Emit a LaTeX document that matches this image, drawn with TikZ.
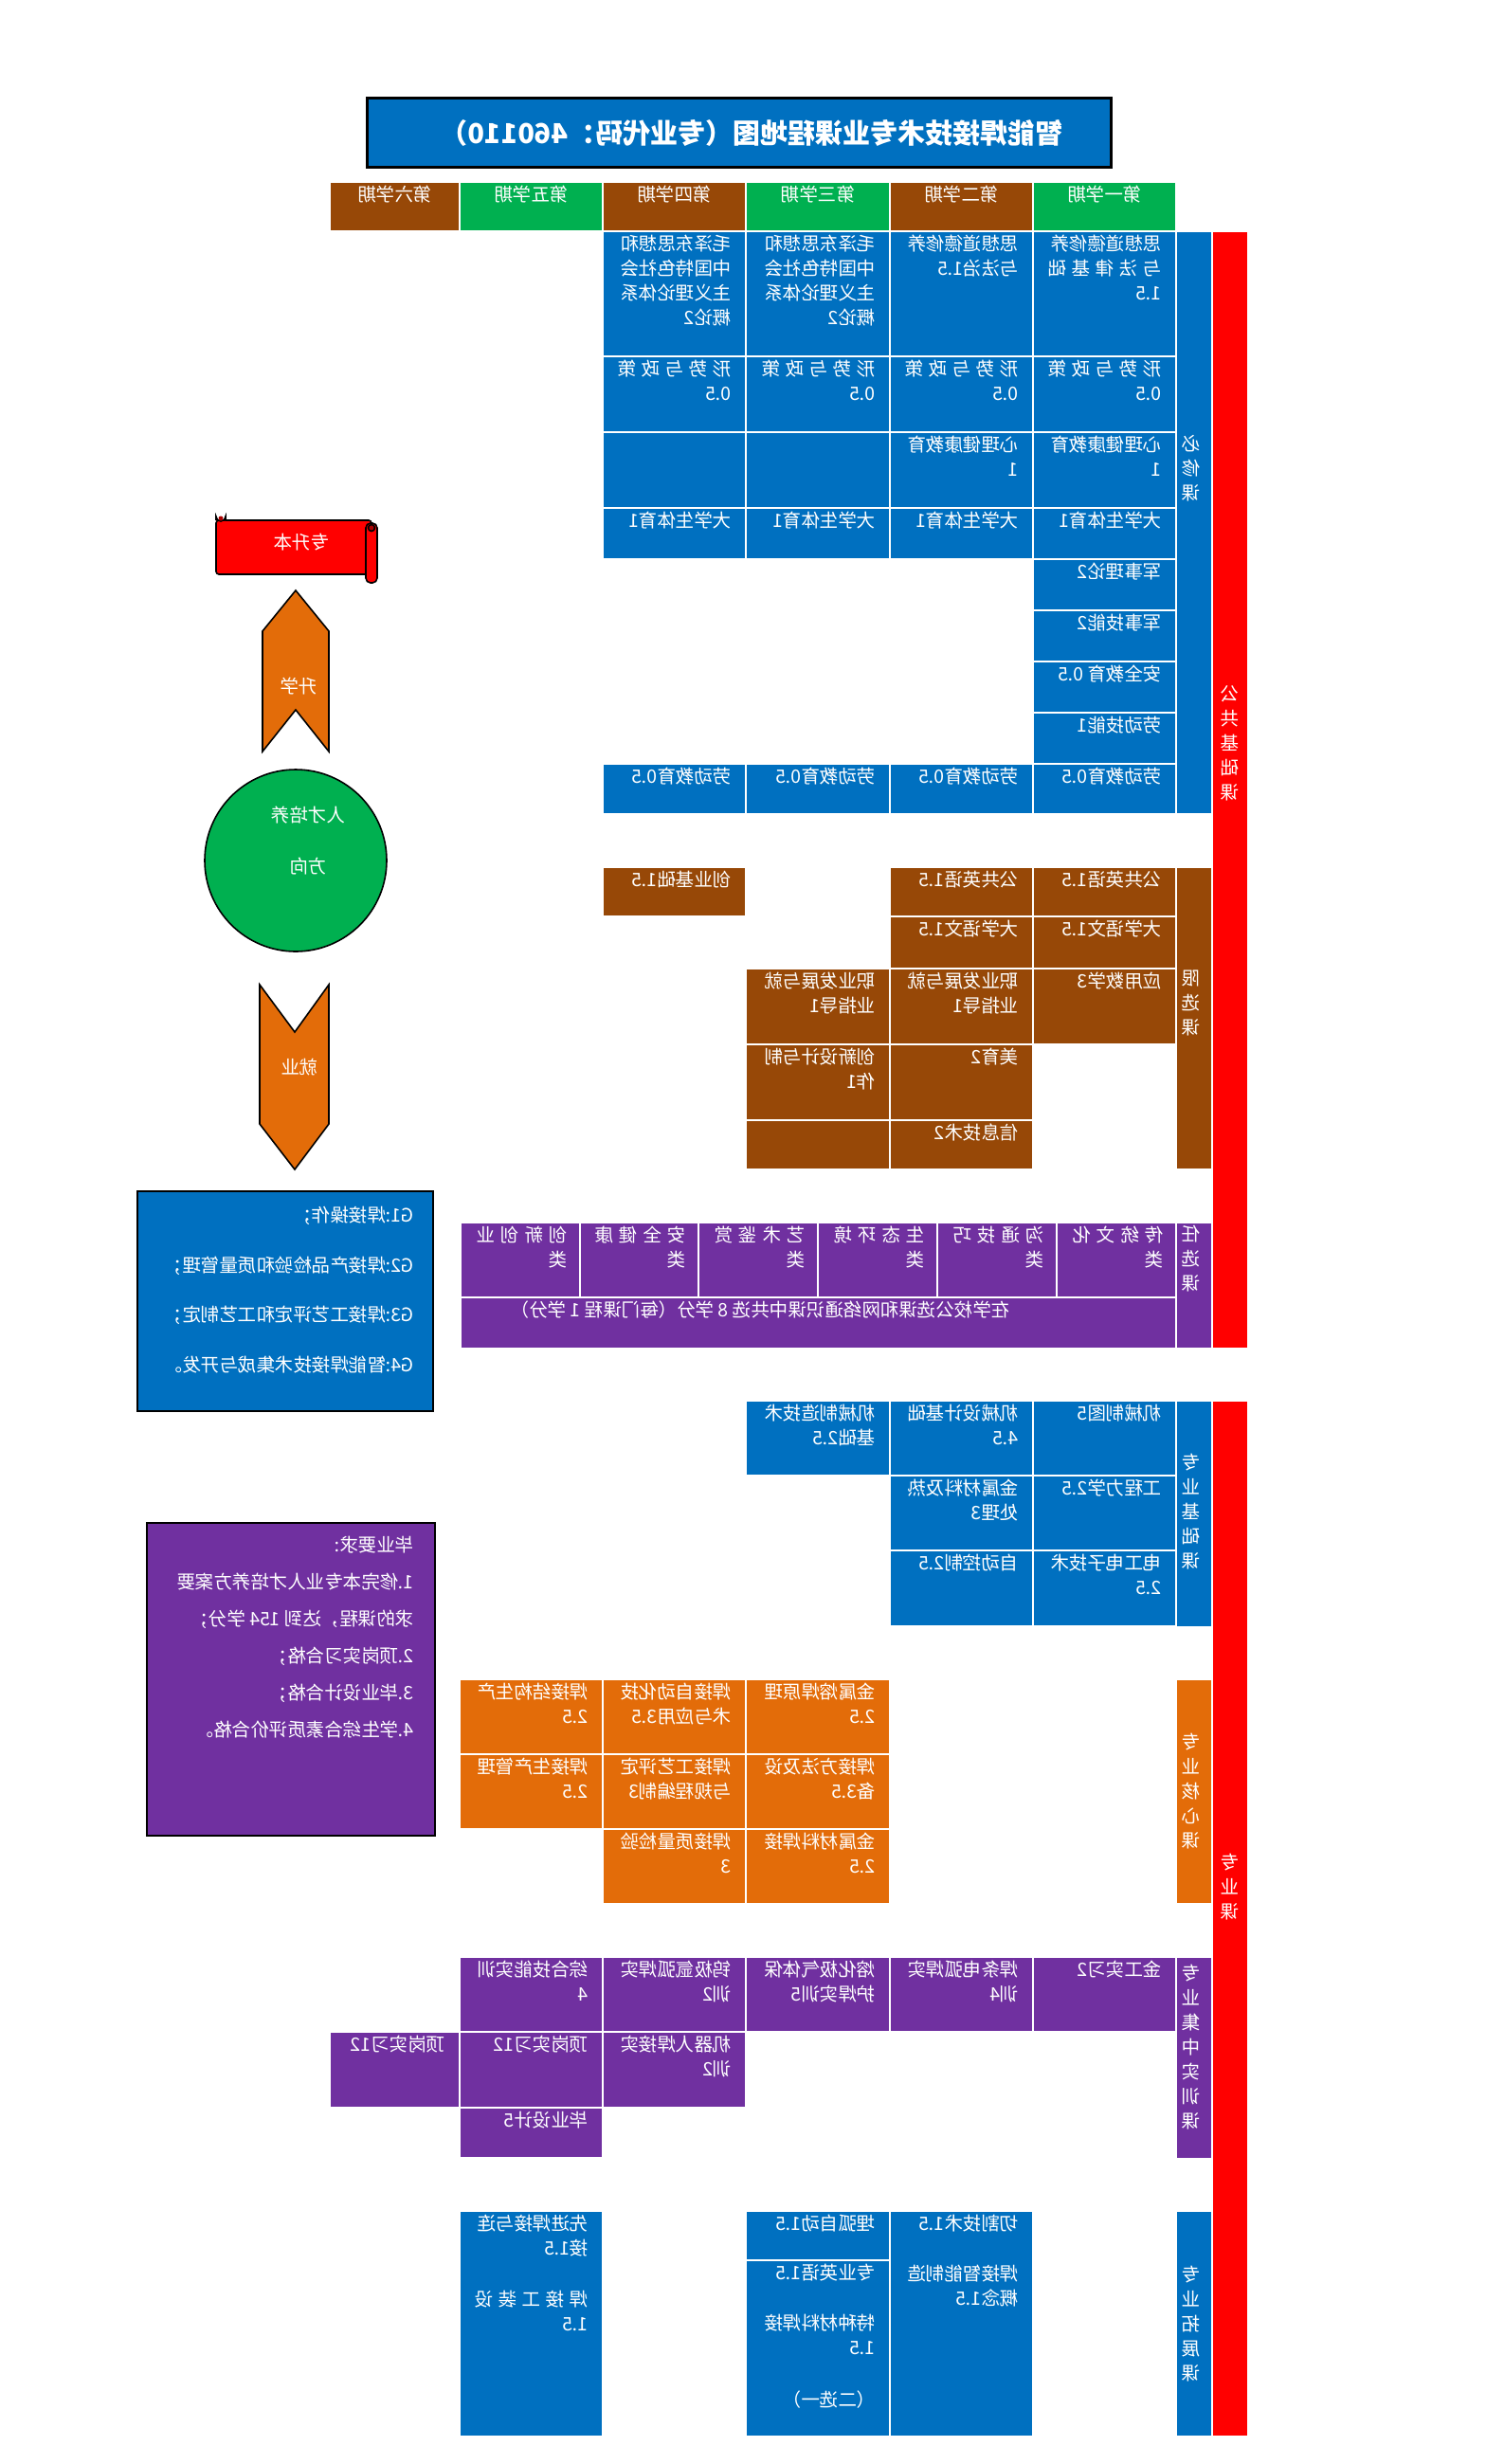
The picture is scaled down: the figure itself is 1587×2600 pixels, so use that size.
\documentclass[tikz,border=0pt]{standalone}
\usepackage{fontspec}
\newfontfamily\cjk{Noto Sans CJK SC}
\definecolor{cblue}{RGB}{0,112,192}
\definecolor{cgreen}{RGB}{0,176,80}
\definecolor{cbrown}{RGB}{151,72,7}
\definecolor{corange}{RGB}{227,108,9}
\definecolor{cpurple}{RGB}{112,48,160}
\definecolor{cred}{RGB}{255,0,0}
\definecolor{cdred}{RGB}{170,0,0}
\newcommand\txtfont{\cjk\fontsize{19.5}{26}\selectfont}
\tikzset{
  mt/.style={xscale=-1,text=white,font=\txtfont,anchor=north west,align=left,inner sep=0pt},
  cellf/.style={draw=white,line width=1.5pt},
  outl/.style={draw=black,line width=1.6pt},
  vlab/.style={mt,anchor=north,align=center},
}
% name, x1, y1, x2, y2, colour, text
\newcommand\cellx[7]{\path[cellf,fill=#6] (#2,#3) rectangle (#4,#5);
  \node[mt] (#1) at ({#4-15},{#3+4}) {#7};}
\newcommand\emptyc[5]{\path[cellf,fill=#5] (#1,#2) rectangle (#3,#4);}
% name, y1, y2, colour, text top, text
\newcommand\labc[6]{\path[cellf,fill=#4] (1241,#2) rectangle (1279,#3);
  \node[vlab] (#1) at (1257,#5) {#6};}
\newcommand\spr[2]{\makebox[#1pt][s]{#2}}
\newcommand\hcell[5]{\path[cellf,fill=#4] (#2,192) rectangle (#3,244);
  \node[mt,anchor=north] (#1) at ({(#2+#3)/2},196) {#5};}

\begin{document}
\begin{tikzpicture}[x=1pt,y=-1pt]
\fill[white] (0,0) rectangle (1587,2600);
\useasboundingbox (0,0) rectangle (1587,2600);

% title
\draw[line width=3pt,fill=cblue] (387,103) rectangle (1172,176);
\node[xscale=-1,text=white,font=\cjk\bfseries\fontsize{29}{34}\selectfont,inner sep=0pt] (title) at (793,140) {智能焊接技术专业课程地图（专业代码：460110）};

% header
\hcell{h6}{348}{485}{cbrown}{第六学期}
\hcell{h5}{485}{636}{cgreen}{第五学期}
\hcell{h4}{636}{787}{cbrown}{第四学期}
\hcell{h3}{787}{939}{cgreen}{第三学期}
\hcell{h2}{939}{1090}{cbrown}{第二学期}
\hcell{h1}{1090}{1241}{cgreen}{第一学期}

% public compulsory
\cellx{p41}{636}{244}{787}{376}{cblue}{毛泽东思想和\\中国特色社会\\主义理论体系\\概论2}
\cellx{p31}{787}{244}{939}{376}{cblue}{毛泽东思想和\\中国特色社会\\主义理论体系\\概论2}
\cellx{p21}{939}{244}{1090}{376}{cblue}{思想道德修养\\与法治1.5}
\cellx{p11}{1090}{244}{1241}{376}{cblue}{思想道德修养\\\spr{120}{与\hfill 法\hfill 律\hfill 基\hfill 础}\\1.5}
\cellx{p42}{636}{376}{787}{456}{cblue}{\spr{120}{形\hfill 势\hfill 与\hfill 政\hfill 策}\\0.5}
\cellx{p32}{787}{376}{939}{456}{cblue}{\spr{120}{形\hfill 势\hfill 与\hfill 政\hfill 策}\\0.5}
\cellx{p22}{939}{376}{1090}{456}{cblue}{\spr{120}{形\hfill 势\hfill 与\hfill 政\hfill 策}\\0.5}
\cellx{p12}{1090}{376}{1241}{456}{cblue}{\spr{120}{形\hfill 势\hfill 与\hfill 政\hfill 策}\\0.5}
\emptyc{636}{456}{787}{536}{cblue}
\emptyc{787}{456}{939}{536}{cblue}
\cellx{p23}{939}{456}{1090}{536}{cblue}{心理健康教育\\1}
\cellx{p13}{1090}{456}{1241}{536}{cblue}{心理健康教育\\1}
\cellx{p44}{636}{536}{787}{590}{cblue}{大学生体育1}
\cellx{p34}{787}{536}{939}{590}{cblue}{大学生体育1}
\cellx{p24}{939}{536}{1090}{590}{cblue}{大学生体育1}
\cellx{p14}{1090}{536}{1241}{590}{cblue}{大学生体育1}
\cellx{p15}{1090}{590}{1241}{644}{cblue}{军事理论2}
\cellx{p16}{1090}{644}{1241}{698}{cblue}{军事技能2}
\cellx{p17}{1090}{698}{1241}{752}{cblue}{安全教育 0.5}
\cellx{p18}{1090}{752}{1241}{806}{cblue}{劳动技能1}
\cellx{p49}{636}{806}{787}{859}{cblue}{劳动教育0.5}
\cellx{p39}{787}{806}{939}{859}{cblue}{劳动教育0.5}
\cellx{p29}{939}{806}{1090}{859}{cblue}{劳动教育0.5}
\cellx{p19}{1090}{806}{1241}{859}{cblue}{劳动教育0.5}
\labc{lpub}{244}{859}{cblue}{459}{必\\修\\课}

% red bar public
\path[cellf,fill=cred] (1279,244) rectangle (1317,1423);
\node[vlab] (lpubbase) at (1298,723) {公\\共\\基\\础\\课};

% restricted electives
\cellx{e41}{636}{915}{787}{967}{cbrown}{创业基础1.5}
\cellx{e21}{939}{915}{1090}{967}{cbrown}{公共英语1.5}
\cellx{e11}{1090}{915}{1241}{967}{cbrown}{公共英语1.5}
\cellx{e22}{939}{967}{1090}{1022}{cbrown}{大学语文1.5}
\cellx{e12}{1090}{967}{1241}{1022}{cbrown}{大学语文1.5}
\cellx{e33}{787}{1022}{939}{1102}{cbrown}{职业发展与就\\业指导1}
\cellx{e23}{939}{1022}{1090}{1102}{cbrown}{职业发展与就\\业指导1}
\cellx{e13}{1090}{1022}{1241}{1102}{cbrown}{应用数学3}
\cellx{e34}{787}{1102}{939}{1182}{cbrown}{创新设计与制\\作1}
\cellx{e24}{939}{1102}{1090}{1182}{cbrown}{美育2}
\emptyc{787}{1182}{939}{1234}{cbrown}
\cellx{e25}{939}{1182}{1090}{1234}{cbrown}{信息技术2}
\labc{lres}{915}{1234}{cbrown}{1024}{限\\选\\课}

% optional electives
\path[cellf,fill=cpurple] (486,1290) rectangle (612,1369);
\node[mt] (o6) at (599,1294) {\spr{96}{创\hfill 新\hfill 创\hfill 业}\\类};
\path[cellf,fill=cpurple] (612,1290) rectangle (737,1369);
\node[mt] (o5) at (724,1294) {\spr{96}{安\hfill 全\hfill 健\hfill 康}\\类};
\path[cellf,fill=cpurple] (737,1290) rectangle (863,1369);
\node[mt] (o4) at (850,1294) {\spr{96}{艺\hfill 术\hfill 鉴\hfill 赏}\\类};
\path[cellf,fill=cpurple] (863,1290) rectangle (989,1369);
\node[mt] (o3) at (976,1294) {\spr{96}{生\hfill 态\hfill 环\hfill 境}\\类};
\path[cellf,fill=cpurple] (989,1290) rectangle (1115,1369);
\node[mt] (o2) at (1102,1294) {\spr{96}{沟\hfill 通\hfill 技\hfill 巧}\\类};
\path[cellf,fill=cpurple] (1115,1290) rectangle (1241,1369);
\node[mt] (o1) at (1228,1294) {\spr{96}{传\hfill 统\hfill 文\hfill 化}\\类};
\path[cellf,fill=cpurple] (486,1369) rectangle (1241,1423);
\node[mt] (oall) at (1066,1373) {在学校公选课和网络通识课中共选 8 学分（每门课程 1 学分）};
\labc{lopt}{1290}{1423}{cpurple}{1293}{任\\选\\课}

% red bar professional
\path[cellf,fill=cred] (1279,1478) rectangle (1317,2571);
\node[vlab] (lprof) at (1298,1956) {专\\业\\课};

% professional foundation
\cellx{f31}{787}{1478}{939}{1557}{cblue}{机械制造技术\\基础2.5}
\cellx{f21}{939}{1478}{1090}{1557}{cblue}{机械设计基础\\4.5}
\cellx{f11}{1090}{1478}{1241}{1557}{cblue}{机械制图5}
\cellx{f22}{939}{1557}{1090}{1636}{cblue}{金属材料及热\\处理3}
\cellx{f12}{1090}{1557}{1241}{1636}{cblue}{工程力学2.5}
\cellx{f23}{939}{1636}{1090}{1716}{cblue}{自动控制2.5}
\cellx{f13}{1090}{1636}{1241}{1716}{cblue}{电工电子技术\\2.5}
\labc{lfound}{1478}{1717}{cblue}{1534}{专\\业\\基\\础\\课}

% professional core
\cellx{c31}{787}{1772}{939}{1851}{corange}{金属熔焊原理\\2.5}
\cellx{c41}{636}{1772}{787}{1851}{corange}{焊接自动化技\\术与应用3.5}
\cellx{c51}{485}{1772}{636}{1851}{corange}{焊接结构生产\\2.5}
\cellx{c32}{787}{1851}{939}{1930}{corange}{焊接方法及设\\备3.5}
\cellx{c42}{636}{1851}{787}{1930}{corange}{焊接工艺评定\\与规程编制3}
\cellx{c52}{485}{1851}{636}{1930}{corange}{焊接生产管理\\2.5}
\cellx{c33}{787}{1930}{939}{2009}{corange}{金属材料焊接\\2.5}
\cellx{c43}{636}{1930}{787}{2009}{corange}{焊接质量检验\\3}
\labc{lcore}{1772}{2009}{corange}{1829}{专\\业\\核\\心\\课}

% practical training
\cellx{t11}{1090}{2065}{1241}{2144}{cpurple}{金工实习2}
\cellx{t21}{939}{2065}{1090}{2144}{cpurple}{焊条电弧焊实\\训4}
\cellx{t31}{787}{2065}{939}{2144}{cpurple}{熔化极气体保\\护焊实训5}
\cellx{t41}{636}{2065}{787}{2144}{cpurple}{钨极氩弧焊实\\训2}
\cellx{t51}{485}{2065}{636}{2144}{cpurple}{综合技能实训\\4}
\cellx{t62}{348}{2144}{485}{2224}{cpurple}{顶岗实习12}
\cellx{t52}{485}{2144}{636}{2224}{cpurple}{顶岗实习12}
\cellx{t42}{636}{2144}{787}{2224}{cpurple}{机器人焊接实\\训2}
\cellx{t53}{485}{2224}{636}{2277}{cpurple}{毕业设计5}
\labc{ltrain}{2065}{2278}{cpurple}{2073}{专\\业\\集\\中\\实\\训\\课}

% professional expansion
\cellx{x51}{485}{2333}{636}{2571}{cblue}{先进焊接与连\\接1.5\\[28pt]\spr{120}{焊\hfill 接\hfill 工\hfill 装\hfill 设}\\1.5}
\cellx{x31}{787}{2333}{939}{2385}{cblue}{埋弧自动1.5}
\cellx{x32}{787}{2385}{939}{2571}{cblue}{专业英语1.5\\[27pt]特种材料焊接\\1.5}
\node[mt,anchor=north] (x3note) at (875,2523) {（二选一）};
\cellx{x21}{939}{2333}{1090}{2571}{cblue}{切割技术1.5\\[27pt]焊接智能制造\\概念1.5}
\labc{lexp}{2333}{2571}{cblue}{2391}{专\\业\\拓\\展\\课}

% left: scroll
\draw[outl,fill=cred,rounded corners=3pt] (228,549) rectangle (392,606);
\draw[outl,fill=cred] (228,549) -- (228,545) arc[start angle=180,end angle=0,radius=5] -- (238,549);
\fill[cdred] (233,547) circle[radius=2.5];
\draw[outl,fill=cred,rounded corners=5pt] (386,552) rectangle (398,615);
\draw[outl,fill=cdred] (392,557) circle[radius=3.5];
\node[mt,anchor=center] (sb) at (318,572) {专升本};

% left: up chevron
\draw[outl,fill=corange] (312,623) -- (347,666) -- (347,793) -- (312,749) -- (277,793) -- (277,666) -- cycle;
\node[mt,anchor=center] (sx) at (315,724) {升学};

% left: circle
\draw[outl,fill=cgreen] (312,908) circle[radius=96];
\node[mt,anchor=north,align=center,font=\cjk\fontsize{19.5}{54}\selectfont] (rc) at (325,851) {人才培养\\方向};

% left: down chevron
\draw[outl,fill=corange] (274,1039) -- (311,1089) -- (347,1039) -- (347,1186) -- (311,1234) -- (274,1186) -- cycle;
\node[mt,anchor=center] (jy) at (316,1126) {就业};

% goals box
\draw[line width=2.5pt,fill=cblue] (145,1257) rectangle (457,1489);
\node[mt,font=\cjk\fontsize{19.5}{52.5}\selectfont] (goals) at (437,1273) {G1:焊接操作；\\G2:焊接产品检验和质量管理；\\G3:焊接工艺评定和工艺制定；\\G4:智能焊接技术集成与开发。};

% graduation requirements
\draw[line width=2.5pt,fill=cpurple] (155,1607) rectangle (459,1937);
\node[mt,font=\cjk\fontsize{19.5}{39}\selectfont] (req) at (437,1621) {毕业要求:\\1.修完本专业人才培养方案要\\求的课程，达到 154 学分；\\2.顶岗实习合格；\\3.毕业设计合格；\\4.学生综合素质评价合格。};
\end{tikzpicture}
\end{document}
